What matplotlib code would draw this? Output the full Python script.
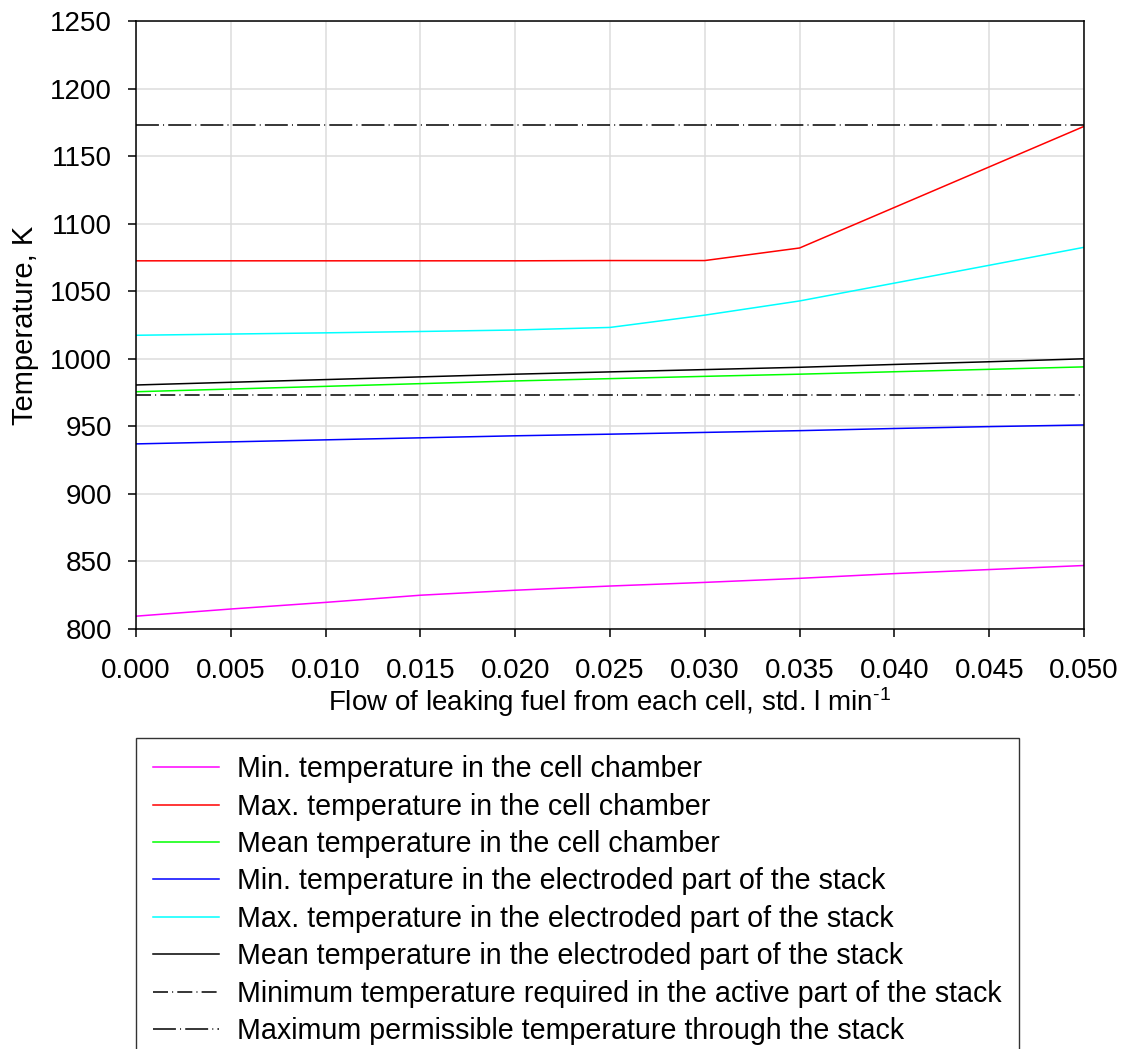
import matplotlib
matplotlib.use("Agg")
import matplotlib.pyplot as plt

plt.rcParams['font.family'] = ['Liberation Sans', 'DejaVu Sans']
plt.rcParams['mathtext.fontset'] = 'custom'
plt.rcParams['mathtext.rm'] = 'Liberation Sans'
plt.rcParams['mathtext.default'] = 'regular'
plt.rcParams['lines.scale_dashes'] = False

# Leak flow per cell, std. l/min
flow = [0.000, 0.005, 0.010, 0.015, 0.020, 0.025, 0.030, 0.035, 0.040, 0.045, 0.050]

# Temperatures, K
chamber_min = [809.5, 814.8, 819.7, 825.0, 828.7, 831.8, 834.5, 837.5, 841.0, 844.0, 847.0]
chamber_max = [1072.5, 1072.5, 1072.5, 1072.5, 1072.5, 1072.7, 1072.7, 1082.0, 1112.0, 1142.0, 1172.0]
chamber_mean = [975.6, 977.6, 979.6, 981.6, 983.6, 985.3, 987.0, 988.6, 990.4, 992.2, 994.0]
stack_min = [937.0, 938.5, 940.0, 941.5, 943.0, 944.2, 945.5, 946.8, 948.4, 949.8, 951.0]
stack_max = [1017.4, 1018.3, 1019.2, 1020.2, 1021.3, 1023.2, 1032.3, 1042.8, 1056.0, 1069.2, 1082.5]
stack_mean = [980.6, 982.6, 984.6, 986.6, 988.6, 990.3, 992.0, 993.7, 995.8, 997.8, 1000.0]
required_min = 973.0
permissible_max = 1173.0

series = [
    (chamber_min, '#ff00ff', 'Min. temperature in the cell chamber'),
    (chamber_max, '#ff0000', 'Max. temperature in the cell chamber'),
    (chamber_mean, '#00ff00', 'Mean temperature in the cell chamber'),
    (stack_min, '#0000ff', 'Min. temperature in the electroded part of the stack'),
    (stack_max, '#00ffff', 'Max. temperature in the electroded part of the stack'),
    (stack_mean, '#000000', 'Mean temperature in the electroded part of the stack'),
]

fig = plt.figure(figsize=(11.28, 10.49), dpi=100)
ax = fig.add_axes([136 / 1128, 1 - 629 / 1049, (1084 - 136) / 1128, (629 - 21) / 1049])

lw = 1.1
for vals, color, label in series:
    ax.plot(flow, vals, color=color, lw=lw, label=label)

ax.axhline(required_min, color='black', lw=lw, linestyle=(0, (10.8, 3.0, 0.7, 3.0)),
           label='Minimum temperature required in the active part of the stack')
ax.axhline(permissible_max, color='black', lw=lw, linestyle=(0, (16.5, 3.0, 0.7, 3.0)),
           label='Maximum permissible temperature through the stack')

ax.set_xlim(0.0, 0.05)
ax.set_ylim(800, 1250)
ax.set_xticks([i * 0.005 for i in range(11)])
ax.set_xticklabels([f"{i * 0.005:.3f}" for i in range(11)])
ax.set_yticks(range(800, 1251, 50))

ax.grid(True, color='#dcdcdc', lw=1.1)
ax.set_axisbelow(True)
for s in ax.spines.values():
    s.set_linewidth(1.1)
    s.set_color('black')
ax.tick_params(axis='both', direction='out', length=5.8, width=1.1, labelsize=20,
               colors='black')
ax.tick_params(axis='x', pad=15)
ax.tick_params(axis='y', pad=11.5)

ax.set_xlabel(r'Flow of leaking fuel from each cell, std. l min$^{\text{-}1}$',
              fontsize=20, labelpad=1)
ax.set_ylabel('Temperature, K', fontsize=21, labelpad=8)

leg = fig.legend(loc='upper left', bbox_to_anchor=(136 / 1128, 1 - 738 / 1049),
                 fontsize=20.6, frameon=True, fancybox=False, handlelength=2.3,
                 handletextpad=0.62, labelspacing=0.33, borderpad=0.6,
                 borderaxespad=0.0)
leg.get_frame().set_edgecolor('black')
leg.get_frame().set_linewidth(1.0)

fig.savefig('out.png', dpi=100)
